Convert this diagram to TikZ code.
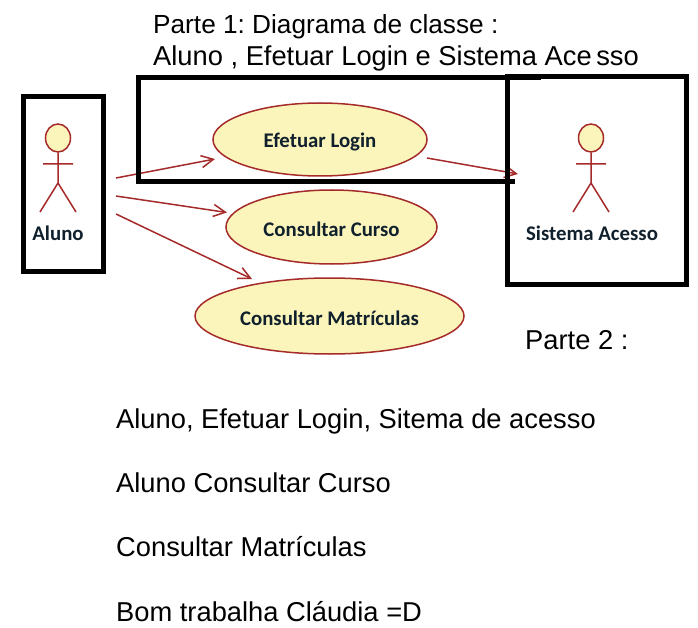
\documentclass[tikz,border=0pt]{standalone}
\usepackage{fontspec}
\setmainfont{Liberation Sans}
\newfontfamily\umlfont{Carlito}
\usetikzlibrary{shapes.geometric,arrows.meta}
\definecolor{umlred}{HTML}{A52A2A}
\definecolor{umlfill}{HTML}{FBF5BC}
\definecolor{umltext}{HTML}{10202C}
\frenchspacing
\tikzset{
  frame/.style={draw=black,line width=5pt},
  usecase/.style={ellipse,draw=umlred,fill=umlfill,line width=1.5pt,inner sep=0pt},
  umllabel/.style={font=\fontsize{20.8}{24}\umlfont\bfseries\color{umltext},inner sep=0pt},
  actorhead/.style={ellipse,draw=umlred,fill=umlfill,line width=1.5pt,minimum width=25pt,minimum height=28pt,inner sep=0pt},
  actorline/.style={draw=umlred,line width=1.5pt},
  assoc/.style={draw=umlred,line width=1.5pt,-{Straight Barb[length=12pt,width=12pt]}},
  txt/.style={font=\fontsize{27.3}{30}\selectfont,anchor=base west,inner sep=0pt},
}
\begin{document}
\begin{tikzpicture}[x=1pt,y=-1pt]
\useasboundingbox (0,0) rectangle (698,628);
\node[usecase,minimum width=214pt,minimum height=73pt,label={[umllabel,yshift=-2.5pt]center:Efetuar Login}] (login) at (320,139.5) {};
\node[usecase,minimum width=211pt,minimum height=74pt,label={[umllabel,yshift=-2pt]center:Consultar Curso}] (curso) at (331.5,227) {};
\node[usecase,minimum width=269pt,minimum height=76pt,label={[umllabel,yshift=-2pt]center:Consultar Matrículas}] (matr) at (329.5,316) {};
\node[umllabel] (alunolabel) at (58,233) {Aluno};
\node[umllabel] (sistemalabel) at (592,233) {Sistema Acesso};
\node[actorhead] (head1) at (58,138) {};
\node[actorhead] (head2) at (591,138) {};
\coordinate (hip1) at (58,183); \coordinate (hip2) at (591,183);
\coordinate (armL1) at (43,164); \coordinate (armR1) at (73,164);
\coordinate (footL1) at (40,212); \coordinate (footR1) at (76,212);
\coordinate (armL2) at (576,164); \coordinate (armR2) at (606,164);
\coordinate (footL2) at (573,212); \coordinate (footR2) at (609,212);
\draw[actorline] (head1) -- (hip1) (armL1) -- (armR1) (footL1) -- (hip1) -- (footR1);
\draw[actorline] (head2) -- (hip2) (armL2) -- (armR2) (footL2) -- (hip2) -- (footR2);
\coordinate (a1) at (116,178); \coordinate (a2) at (116,196); \coordinate (a3) at (116,214);
\coordinate (e1) at (215,159); \coordinate (e2) at (227,212.5); \coordinate (e3) at (252,279);
\coordinate (l1) at (427,158); \coordinate (s1) at (518,174);
\draw[assoc] (a1) -- (e1);
\draw[assoc] (a2) -- (e2);
\draw[assoc] (a3) -- (e3);
\draw[assoc] (l1) -- (s1);
\node[frame,minimum width=80pt,minimum height=175pt,inner sep=0pt] (bx1) at (63.5,184) {};
\draw[frame] (515,182) -- (138.5,182) -- (138.5,77.5) -- (541,77.5);
\node[frame,minimum width=179pt,minimum height=207pt,inner sep=0pt] (bx2) at (597,180.5) {};
\node[txt,font=\fontsize{26.2}{30}\selectfont] (t1) at (153,33.5) {Parte 1: Diagrama de classe :};
\node[txt] (t2) at (153,66) {Aluno , Efetuar Login e Sistema Ace\hspace{-3pt} sso};
\node[txt] (t3) at (525,349) {Parte 2 :};
\node[txt] (t4) at (116,428) {Aluno, Efetuar Login, Sitema de acesso};
\node[txt] (t5) at (116,492) {Aluno Consultar Curso};
\node[txt] (t6) at (116,556) {Consultar Matrículas};
\node[txt] (t7) at (116,621) {Bom trabalha Cláudia =D};
\end{tikzpicture}
\end{document}
